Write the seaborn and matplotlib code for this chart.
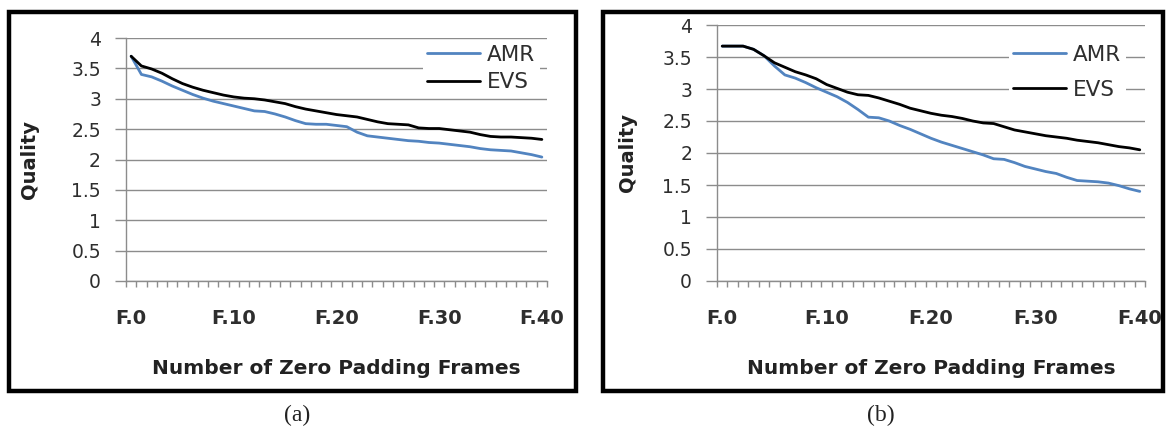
import matplotlib
matplotlib.use("Agg")
import numpy as np
import pandas as pd
import seaborn as sns
import matplotlib.pyplot as plt
from matplotlib.patches import Rectangle
from matplotlib.ticker import FixedLocator

# ---- data -------------------------------------------------------------
frames = list(range(41))                       # F.0 ... F.40
tick_positions = [0, 10, 20, 30, 40]
tick_labels = ["F.0", "F.10", "F.20", "F.30", "F.40"]
codecs = ["AMR", "EVS"]

amr_a = [3.70, 3.40, 3.36, 3.29, 3.21, 3.14, 3.07, 3.01, 2.96, 2.92,
         2.88, 2.84, 2.80, 2.79, 2.75, 2.70, 2.64, 2.59, 2.58, 2.58,
         2.56, 2.54, 2.45, 2.39, 2.37, 2.35, 2.33, 2.31, 2.30, 2.28,
         2.27, 2.25, 2.23, 2.21, 2.18, 2.16, 2.15, 2.14, 2.11, 2.08, 2.04]
evs_a = [3.70, 3.54, 3.49, 3.42, 3.33, 3.25, 3.19, 3.14, 3.10, 3.06,
         3.03, 3.01, 3.00, 2.98, 2.95, 2.92, 2.87, 2.83, 2.80, 2.77,
         2.74, 2.72, 2.70, 2.66, 2.62, 2.59, 2.58, 2.57, 2.52, 2.51,
         2.51, 2.49, 2.47, 2.45, 2.41, 2.38, 2.37, 2.37, 2.36, 2.35, 2.33]

amr_b = [3.67, 3.67, 3.67, 3.62, 3.52, 3.36, 3.22, 3.17, 3.10, 3.02,
         2.95, 2.88, 2.79, 2.68, 2.56, 2.55, 2.50, 2.43, 2.37, 2.30,
         2.23, 2.17, 2.12, 2.07, 2.02, 1.97, 1.91, 1.90, 1.85, 1.79,
         1.75, 1.71, 1.68, 1.62, 1.57, 1.56, 1.55, 1.53, 1.49, 1.44, 1.40]
evs_b = [3.67, 3.67, 3.67, 3.62, 3.52, 3.41, 3.34, 3.27, 3.22, 3.16,
         3.07, 3.01, 2.95, 2.91, 2.90, 2.86, 2.81, 2.76, 2.70, 2.66,
         2.62, 2.59, 2.57, 2.54, 2.50, 2.47, 2.46, 2.41, 2.36, 2.33,
         2.30, 2.27, 2.25, 2.23, 2.20, 2.18, 2.16, 2.13, 2.10, 2.08, 2.05]

# ---- style ------------------------------------------------------------
sns.set_theme(style="white")
plt.rcParams["font.family"] = ["DejaVu Sans"]

GRID = "#8c8c8c"
TEXT = "#2e2e2e"
palette = {"AMR": "#5284c0", "EVS": "#000000"}

W, H = 1166, 438
fig = plt.figure(figsize=(W / 100, H / 100), dpi=100)


def add_axes_px(x0, x1, ytop, ybot):
    return fig.add_axes([x0 / W, (H - ybot) / H, (x1 - x0) / W, (ybot - ytop) / H])


def draw_panel(ax, amr, evs, legend_anchor, label_spacing, xlab_y, ylab_x):
    df = pd.DataFrame({
        "frame": frames * 2,
        "quality": amr + evs,
        "codec": [codecs[0]] * len(frames) + [codecs[1]] * len(frames),
    })
    sns.lineplot(data=df, x="frame", y="quality", hue="codec",
                 palette=palette, linewidth=2.0, ax=ax)

    ax.set_xlim(-0.5, 40.5)
    ax.set_ylim(0, 4)
    yt = np.arange(0, 4.01, 0.5)
    ax.set_yticks(yt)
    ax.set_yticklabels([f"{v:g}" for v in yt])
    ax.grid(axis="y", color=GRID, linewidth=1.0)
    ax.grid(axis="x", visible=False)
    ax.set_axisbelow(True)

    for side in ("top", "right"):
        ax.spines[side].set_visible(False)
    for side in ("left", "bottom"):
        ax.spines[side].set_color(GRID)
        ax.spines[side].set_linewidth(1.0)

    ax.tick_params(axis="y", left=True, length=8, width=1.0, color=GRID,
                   pad=10, labelsize=13.5, labelcolor=TEXT, direction="out")

    ax.xaxis.set_major_locator(FixedLocator(tick_positions))
    ax.set_xticklabels(tick_labels, fontweight="bold")
    ax.xaxis.set_minor_locator(FixedLocator(np.arange(-0.5, 41, 1)))
    ax.tick_params(axis="x", which="major", bottom=True, length=0, pad=20,
                   labelsize=14, labelcolor=TEXT)
    ax.tick_params(axis="x", which="minor", bottom=True, length=4.5,
                   width=1.0, color=GRID, direction="out")

    ax.set_xlabel("Number of Zero Padding Frames", fontsize=14.5,
                  fontweight="bold", color="#222222")
    ax.xaxis.label.set_va("center")
    ax.xaxis.set_label_coords(0.5, xlab_y)
    ax.set_ylabel("Quality", fontsize=14, fontweight="bold", color="#222222")
    ax.yaxis.label.set_va("center")
    ax.yaxis.set_label_coords(ylab_x, 0.5)

    handles, labels = ax.get_legend_handles_labels()
    leg = ax.legend(handles, labels, loc="upper left",
                    bbox_to_anchor=legend_anchor, frameon=True,
                    facecolor="white", edgecolor="none", framealpha=1.0,
                    fontsize=15.5, handlelength=2.45, handletextpad=0.33,
                    labelspacing=label_spacing, borderpad=0.2,
                    borderaxespad=0.0, fancybox=False)
    for t in leg.get_texts():
        t.set_color(TEXT)
    for line in leg.get_lines():
        line.set_linewidth(2.0)


ax_a = add_axes_px(126, 547, 38, 281)
ax_b = add_axes_px(717, 1145, 25, 281)

draw_panel(ax_a, amr_a, evs_a, legend_anchor=(0.705, 0.99),
           label_spacing=0.35, xlab_y=(281 - 368) / 243, ylab_x=(30 - 126) / 421)
draw_panel(ax_b, amr_b, evs_b, legend_anchor=(0.682, 0.94),
           label_spacing=0.7, xlab_y=(281 - 368) / 256, ylab_x=(627 - 717) / 428)

# black frames around each panel
for x0, x1 in [(9, 576), (603, 1163)]:
    fig.add_artist(Rectangle((x0 / W, (H - 391) / H), (x1 - x0) / W, (391 - 12) / H,
                             transform=fig.transFigure, fill=False,
                             edgecolor="black", linewidth=3.2))

fig.text(297 / W, 1 - 415 / H, "(a)", ha="center", va="center",
         fontsize=17, family="Liberation Serif", color="#222222")
fig.text(881 / W, 1 - 415 / H, "(b)", ha="center", va="center",
         fontsize=17, family="Liberation Serif", color="#222222")

fig.savefig("out.png", dpi=100, facecolor="white")
